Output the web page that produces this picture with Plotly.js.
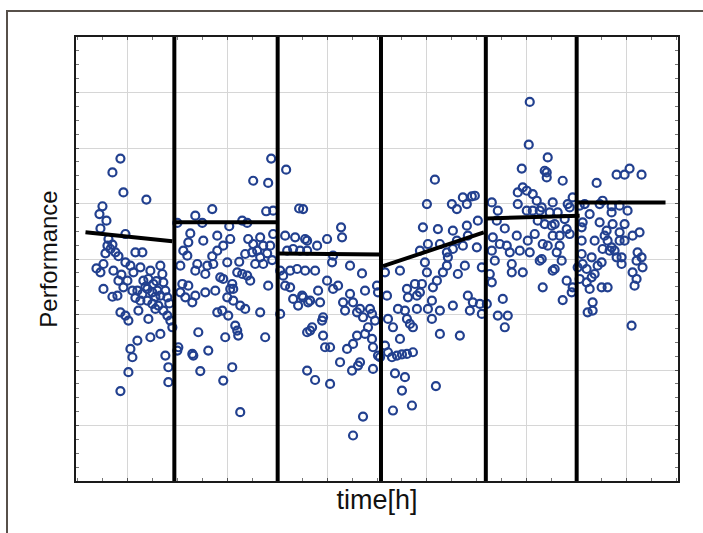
<!DOCTYPE html>
<html>
<head>
<meta charset="utf-8">
<script src="https://cdn.plot.ly/plotly-3.0.1.min.js"></script>
<style>
  html, body { margin: 0; padding: 0; background: #fff; }
  #wrap { position: relative; width: 703px; height: 533px; overflow: hidden; }
  #chart { position: absolute; left: 0; top: 0; width: 703px; height: 533px; }
  #frame { position: absolute; left: 6px; top: 10px; width: 720px; height: 560px;
           border-left: 2px solid #57504a; border-top: 2px solid #57504a; pointer-events: none; }
</style>
</head>
<body>
<div id="wrap">
  <div id="chart"></div>
  <div id="frame"></div>
</div>
<script>
// Observations per phase: [time (h), performance]
const phase1 = [[0.93,5.81],[0.85,5.56],[0.96,5.20],[1.19,5.07],[0.75,4.95],[0.72,4.81],[0.79,4.69],[0.98,4.45],[0.81,4.36],[0.80,4.24],[0.83,4.18],[0.88,4.12],[0.91,4.05],[1.08,4.12],[1.15,4.12],[0.76,3.91],[0.73,3.76],[0.86,3.79],[1.03,3.88],[1.06,3.76],[1.13,3.85],[1.33,3.88],[1.35,3.73],[0.91,3.61],[1.00,3.61],[0.96,3.49],[0.76,3.46],[1.05,3.43],[1.10,3.43],[1.16,3.61],[1.21,3.64],[1.26,3.55],[1.20,3.46],[1.15,3.37],[1.25,3.40],[1.30,3.43],[1.33,3.34],[1.38,3.43],[1.40,3.31],[0.90,3.34],[1.20,3.25],[1.25,3.19],[1.28,3.10],[1.31,3.16],[1.36,3.07],[1.40,2.98],[1.11,3.07],[0.93,3.04],[0.98,2.98],[1.01,2.89],[1.21,2.92],[1.43,2.89],[1.45,2.77],[1.33,2.65],[1.23,2.59],[1.10,2.53],[1.03,2.38],[1.05,2.23],[1.38,2.26],[1.41,2.05],[1.01,1.96],[1.41,1.78],[0.93,1.62],[0.73,4.55],[0.85,4.26],[0.69,3.83],[0.98,3.94],[1.23,3.79],[1.28,3.32],[1.13,3.25],[0.85,3.32],[1.36,3.58],[0.78,4.10],[0.94,3.72],[1.18,3.50],[1.29,3.60],[1.42,3.20],[1.08,3.30]];
const phase2 = [[1.63,4.46],[1.61,4.30],[1.76,4.33],[1.90,4.42],[1.90,4.15],[1.96,4.24],[2.03,4.36],[2.21,4.36],[2.26,4.27],[2.33,4.39],[2.36,4.24],[2.43,4.24],[2.46,4.45],[2.30,4.15],[2.33,4.03],[2.25,4.12],[2.18,4.09],[1.56,4.15],[1.60,4.06],[1.70,3.91],[1.80,3.88],[1.86,3.91],[2.00,3.94],[2.28,3.91],[2.36,3.91],[1.68,3.79],[1.78,3.73],[1.93,3.67],[1.96,3.64],[2.10,3.76],[2.15,3.73],[2.20,3.70],[2.23,3.61],[2.05,3.55],[2.41,3.52],[1.55,3.55],[1.61,3.52],[1.53,3.40],[1.58,3.31],[1.65,3.22],[1.68,3.34],[1.78,3.40],[1.88,3.43],[2.03,3.46],[2.06,3.46],[2.00,3.31],[2.06,3.25],[2.13,3.16],[2.18,3.10],[1.90,3.04],[1.95,3.07],[2.01,2.98],[2.33,3.04],[2.08,2.80],[2.10,2.71],[2.11,2.62],[1.98,2.59],[1.71,2.68],[2.38,2.59],[1.51,2.41],[1.50,2.35],[1.81,2.35],[1.65,2.29],[1.66,2.26],[1.73,1.98],[2.05,2.05],[1.96,1.81],[2.13,1.24],[1.68,4.78],[1.85,4.90],[1.75,4.65],[2.15,4.69],[2.20,4.65],[2.26,5.41],[2.41,5.37],[2.44,5.81],[2.39,4.86],[2.46,4.87],[1.50,4.65],[2.02,4.59],[1.53,3.88],[2.40,4.10],[2.45,3.98],[1.85,4.05],[2.12,3.95]];
const phase3 = [[2.59,5.61],[2.58,4.42],[2.68,4.39],[2.78,4.36],[2.60,4.15],[2.66,4.18],[2.73,4.15],[2.80,4.15],[2.53,3.79],[2.56,3.70],[2.63,3.79],[2.70,3.82],[2.78,3.79],[2.58,3.52],[2.63,3.49],[2.66,3.28],[2.75,3.34],[2.71,3.16],[2.81,3.22],[2.83,2.71],[2.53,3.01],[2.80,1.99],[2.90,4.24],[3.00,4.36],[3.15,4.39],[3.06,4.06],[3.05,3.94],[3.23,3.88],[3.35,3.74],[2.88,3.79],[2.76,3.31],[2.83,3.25],[2.93,3.22],[2.91,3.43],[3.00,3.61],[3.06,3.46],[3.11,3.52],[3.23,3.37],[3.16,3.22],[3.26,3.22],[3.38,3.43],[3.50,3.52],[3.51,3.40],[3.33,3.10],[3.18,3.07],[3.30,3.04],[3.43,3.10],[3.36,2.95],[3.45,3.01],[3.48,2.89],[3.41,2.77],[3.38,2.65],[3.30,2.62],[3.45,2.56],[3.26,2.47],[3.20,2.38],[3.46,2.41],[3.51,2.26],[2.95,2.89],[2.96,2.95],[2.85,2.77],[2.80,2.68],[2.96,2.62],[2.98,2.41],[3.03,2.41],[3.13,2.14],[3.33,2.14],[3.31,2.08],[3.25,1.99],[3.46,2.02],[2.88,1.82],[3.03,1.75],[3.36,1.16],[3.26,0.82],[2.76,4.90],[2.72,4.91],[3.14,4.57],[2.80,4.33]];
const phase4 = [[3.58,3.76],[3.60,3.34],[3.61,2.92],[3.66,2.77],[3.73,2.56],[3.58,2.44],[3.61,2.32],[3.53,2.23],[3.65,2.23],[3.70,2.26],[3.75,2.28],[3.80,2.29],[3.86,2.32],[3.73,3.79],[3.80,3.46],[3.81,3.31],[3.88,3.55],[3.90,3.34],[3.95,3.55],[3.93,3.40],[3.98,3.94],[4.00,3.76],[4.01,4.27],[3.93,4.15],[3.71,3.10],[3.78,3.07],[3.80,2.92],[3.83,2.83],[3.90,3.10],[3.86,2.77],[4.01,3.10],[4.05,2.92],[4.05,3.25],[4.06,3.49],[4.13,3.07],[4.10,3.61],[4.16,3.76],[4.20,3.88],[4.21,4.03],[4.13,4.27],[4.20,4.12],[4.26,4.18],[4.30,4.33],[4.36,4.24],[4.41,4.42],[4.38,3.88],[4.31,3.73],[4.26,3.16],[4.41,3.34],[4.43,3.07],[4.46,3.22],[4.55,3.01],[4.50,4.21],[4.55,3.85],[4.53,3.19],[4.13,2.65],[4.33,2.62],[3.68,1.94],[3.78,1.87],[3.75,1.63],[3.85,1.36],[3.66,1.27],[4.09,1.71],[4.08,5.43],[4.00,4.99],[4.25,4.99],[4.30,4.90],[4.36,5.11],[4.40,4.99],[4.45,5.13],[4.48,5.14],[4.51,4.69],[3.96,4.57],[4.11,4.54],[4.26,4.51],[4.40,4.60]];
const phase5 = [[4.65,5.02],[4.71,4.87],[4.70,4.69],[5.03,6.83],[5.02,6.06],[4.95,5.63],[4.91,5.20],[4.96,5.29],[5.00,5.23],[5.06,5.17],[5.10,5.05],[4.91,4.99],[5.00,4.87],[5.06,4.87],[5.13,4.87],[5.20,5.47],[5.21,5.83],[5.20,5.56],[4.65,4.15],[4.73,4.27],[4.80,4.24],[4.83,4.12],[4.90,4.42],[4.85,3.91],[4.85,3.76],[4.96,3.76],[5.03,4.12],[5.08,4.45],[5.13,3.97],[5.21,4.24],[5.16,3.49],[4.63,3.73],[4.65,3.58],[4.60,3.19],[4.76,3.28],[4.71,2.98],[4.81,2.98],[4.78,2.77],[4.66,4.39],[5.36,5.41],[5.26,5.02],[5.41,4.99],[5.43,4.93],[5.46,5.11],[5.15,4.93],[5.23,4.84],[5.31,4.84],[5.38,4.72],[5.18,4.63],[5.25,4.60],[5.28,4.63],[5.40,4.54],[5.43,4.45],[5.26,4.42],[5.33,4.42],[5.16,4.27],[5.30,4.12],[5.35,3.97],[5.15,4.00],[5.28,3.82],[5.26,3.79],[5.40,3.61],[5.46,3.49],[5.45,3.40],[5.36,3.26],[4.78,4.55],[4.93,4.15],[5.01,4.33],[4.68,3.97],[5.11,4.69],[5.33,4.24],[5.18,5.59]];
const phase6 = [[5.53,4.96],[5.58,4.99],[5.70,5.37],[5.63,4.81],[5.56,4.66],[5.55,4.57],[5.73,4.99],[5.76,5.05],[5.85,4.84],[5.85,4.95],[5.93,4.96],[6.01,4.87],[5.90,5.52],[5.98,5.52],[6.03,5.63],[6.15,5.52],[5.73,4.66],[5.80,4.51],[5.78,4.42],[5.86,4.63],[5.98,4.63],[6.06,4.42],[6.13,4.48],[5.81,4.33],[5.85,4.21],[5.93,4.48],[5.93,4.33],[5.98,4.33],[5.76,4.18],[5.83,4.15],[5.88,4.15],[5.90,4.03],[5.95,4.03],[5.95,3.91],[6.11,4.12],[6.10,3.97],[6.15,4.03],[6.16,3.85],[6.06,3.76],[6.10,3.64],[6.08,3.52],[5.55,4.33],[5.55,4.09],[5.65,4.03],[5.75,3.94],[5.71,3.88],[5.56,3.91],[5.60,3.82],[5.51,3.85],[5.53,3.64],[5.65,3.67],[5.60,3.58],[5.68,3.73],[5.63,3.46],[5.75,3.49],[5.81,3.49],[5.66,3.22],[5.61,3.04],[5.66,3.07],[6.05,2.80],[5.68,4.33]];

// Phase boundaries (h)
const breaks = [1.47, 2.505, 3.54, 4.59, 5.50];

// Piecewise fitted segments: start/end time and start/end performance
const fitStartT = [0.58, 1.48, 2.51, 3.56, 4.60, 5.50];
const fitEndT   = [1.45, 2.49, 3.53, 4.57, 5.53, 6.39];
const fitStartP = [4.48, 4.66, 4.10, 3.87, 4.73, 5.02];
const fitEndP   = [4.32, 4.66, 4.08, 4.48, 4.78, 5.02];

const allPts = [].concat(phase1, phase2, phase3, phase4, phase5, phase6);

const traces = [{
  type: 'scatter', mode: 'markers',
  x: allPts.map(p => p[0]), y: allPts.map(p => p[1]),
  marker: { symbol: 'circle-open', size: 8, color: '#22408f', line: { width: 2.2, color: '#22408f' } },
  hoverinfo: 'skip', showlegend: false
}];

fitStartT.forEach((t0, i) => {
  traces.push({
    type: 'scatter', mode: 'lines',
    x: [t0, fitEndT[i]], y: [fitStartP[i], fitEndP[i]],
    line: { color: '#000', width: 4 },
    hoverinfo: 'skip', showlegend: false
  });
});

const shapes = breaks.map(b => ({
  type: 'line', xref: 'x', yref: 'paper', x0: b, x1: b, y0: 0, y1: 1,
  line: { color: '#000', width: 4 }, layer: 'above'
}));

const axisCommon = {
  showticklabels: false, showgrid: true, gridcolor: '#d6d6d6', gridwidth: 1,
  zeroline: false, showline: true, linecolor: '#1a1a1a', linewidth: 2, mirror: 'ticks',
  ticks: 'inside', ticklen: 3, tickcolor: '#555', dtick: 1,
  minor: { dtick: 0.25, ticks: 'inside', ticklen: 3, tickcolor: '#777', showgrid: false }
};

const layout = {
  width: 703, height: 533,
  margin: { l: 76, r: 25, t: 37, b: 52 },
  paper_bgcolor: '#fff', plot_bgcolor: '#fff',
  font: { family: 'Liberation Sans, Arial, sans-serif', color: '#111' },
  xaxis: Object.assign({}, axisCommon, {
    range: [0.485, 6.515], tick0: 0,
    title: { text: 'time[h]', font: { size: 27, family: 'Liberation Sans Narrow, Liberation Sans, Arial, sans-serif' }, standoff: 8 }
  }),
  yaxis: Object.assign({}, axisCommon, {
    range: [0, 8], tick0: 0,
    title: { text: 'Performance', font: { size: 24, family: 'Liberation Sans Narrow, Liberation Sans, Arial, sans-serif' }, standoff: 10 }
  }),
  shapes: shapes
};

Plotly.newPlot('chart', traces, layout, { staticPlot: true, displayModeBar: false });
</script>
</body>
</html>
